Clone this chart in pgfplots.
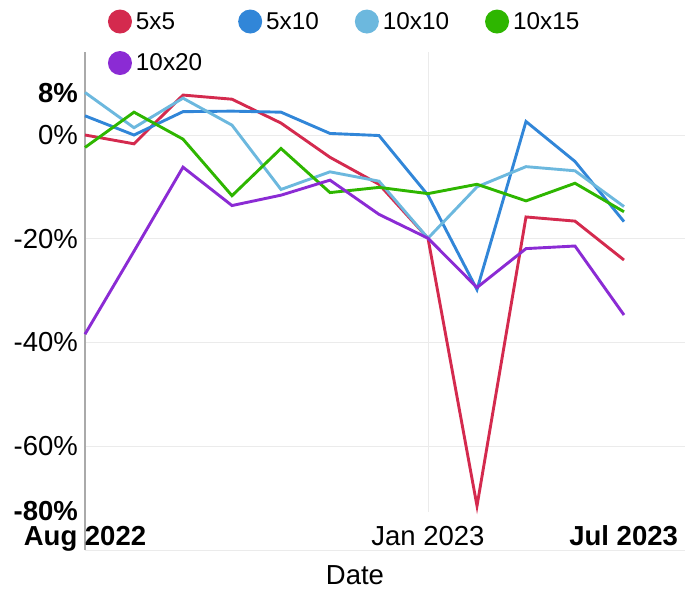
\documentclass[border=0pt]{standalone}
\usepackage{pgfplots}
\pgfplotsset{compat=1.18}
\usepackage{fontspec}
\setmainfont{Liberation Sans}
\definecolor{cRed}{HTML}{D42A4E}
\definecolor{cBlue}{HTML}{3186D8}
\definecolor{cLight}{HTML}{6CB8DE}
\definecolor{cGreen}{HTML}{2EB600}
\definecolor{cPurple}{HTML}{8B2BD4}
\definecolor{gridgray}{HTML}{EBEBEB}
\definecolor{axisgray}{HTML}{AAAAAA}
\begin{document}
\begin{tikzpicture}
\useasboundingbox (0,0) rectangle (698pt,589pt);
\begin{axis}[
  at={(85pt,39pt)}, anchor=south west,
  scale only axis, width=600pt, height=498pt,
  xmin=0, xmax=12.245, ymin=-80, ymax=16,
  clip=false,
  axis x line*=bottom, axis y line*=left,
  x axis line style={draw=gridgray, line width=1pt},
  y axis line style={draw=axisgray, line width=1.5pt},
  ytick={-60,-40,-20,0}, yticklabels={-60\%,-40\%,-20\%,0\%},
  ymajorgrids, grid style={draw=gridgray, line width=1pt},
  extra y ticks={8,-72.4}, extra y tick labels={\textbf{8\%},\textbf{-80\%}},
  extra y tick style={grid=none},
  xtick={7}, xticklabels={Jan 2023},
  extra x ticks={0,12.10}, extra x tick labels={\textbf{Aug 2022},\makebox[0pt][r]{\textbf{Jul 2023}}},
  extra x tick style={grid=none},
  major tick length=0pt, tick style={draw=none},
  tick label style={font=\fontsize{27.5}{32}\selectfont},
  yticklabel style={inner sep=0pt, anchor=east, xshift=-7pt},
  xticklabel style={inner sep=0pt, anchor=base, yshift=5pt},
  xlabel={Date},
  xlabel style={at={(axis description cs:0.45,0)}, anchor=center, yshift=-25pt, font=\fontsize{27.5}{32}\selectfont},
  legend columns=4,
  legend cell align=left,
  legend image code/.code={\fill[draw=none] (12pt,0pt) circle (12pt);},
  legend style={at={(axis description cs:0.0383,1.0853)}, anchor=north west,
    draw=none, fill=none, inner sep=0pt, outer sep=0pt,
    font=\fontsize{24.3}{29}\selectfont,
    column sep=0pt, row sep=17.5pt,
    nodes={inner sep=0pt},
    /tikz/every odd column/.append style={column sep=4pt},
    /tikz/every even column/.append style={column sep=36pt}},
  every axis plot/.append style={line width=2.9pt},
]
\draw[gridgray, line width=1pt] (axis cs:7,-72.67) -- (axis cs:7,16);
\addplot[cRed] coordinates {(0,0) (1,-1.7) (2,7.7) (3,6.9) (4,2.3) (5,-4.3) (6,-9.5) (7,-19.9) (8,-71.5) (9,-15.8) (10,-16.6) (11,-24.1)};
\addlegendentry{5x5}
\addplot[cBlue] coordinates {(0,3.7) (1,0) (2,4.5) (3,4.6) (4,4.4) (5,0.3) (6,-0.1) (7,-11.6) (8,-29.8) (9,2.6) (10,-5.1) (11,-16.7)};
\addlegendentry{5x10}
\addplot[cLight] coordinates {(0,8.2) (1,1.4) (2,7.1) (3,1.9) (4,-10.5) (5,-7.1) (6,-8.9) (7,-19.9) (8,-10.0) (9,-6.1) (10,-6.9) (11,-13.8)};
\addlegendentry{10x10}
\addplot[cGreen] coordinates {(0,-2.4) (1,4.4) (2,-0.8) (3,-11.7) (4,-2.6) (5,-11.1) (6,-10.1) (7,-11.3) (8,-9.5) (9,-12.7) (10,-9.3) (11,-14.8)};
\addlegendentry{10x15}
\addplot[cPurple] coordinates {(0,-38.4) (1,-22.4) (2,-6.2) (3,-13.6) (4,-11.6) (5,-8.7) (6,-15.3) (7,-19.9) (8,-29.4) (9,-21.9) (10,-21.4) (11,-34.7)};
\addlegendentry{10x20}
\end{axis}
\end{tikzpicture}
\end{document}
